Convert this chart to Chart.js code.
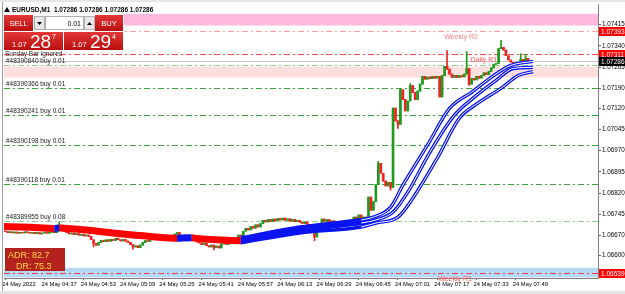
<!DOCTYPE html>
<html>
<head>
<meta charset="utf-8">
<script src="https://cdn.jsdelivr.net/npm/chart.js@4.4.1/dist/chart.umd.min.js"></script>
<style>
html, body { margin: 0; padding: 0; background: #fff; }
</style>
</head>
<body>
<canvas id="eurusdChart" width="625" height="294"></canvas>
<script>
// EURUSD M1, 24 May 2022, first bar 04:21
var startMinute = 4 * 60 + 21;
var firstOpen = 1.06686;
var closes = [
  1.06684, 1.06680, 1.06683, 1.06679, 1.06682, 1.06678, 1.06681, 1.06679, 1.06683, 1.06680,
  1.06678, 1.06681, 1.06677, 1.06680, 1.06676, 1.06679, 1.06682, 1.06678, 1.06681, 1.06684, 1.06680, 1.06686,
  1.06700, 1.06690, 1.06684,
  1.06680, 1.06676, 1.06679, 1.06673, 1.06677, 1.06671, 1.06674, 1.06669, 1.06672, 1.06667,
  1.06655, 1.06642, 1.06636, 1.06645,
  1.06652, 1.06648, 1.06655, 1.06650, 1.06657, 1.06653, 1.06660, 1.06655, 1.06651, 1.06656, 1.06650, 1.06646,
  1.06638, 1.06630, 1.06634, 1.06627, 1.06636,
  1.06645, 1.06652, 1.06649, 1.06656, 1.06660, 1.06657, 1.06663,
  1.06659, 1.06664, 1.06660, 1.06666, 1.06662, 1.06668,
  1.06675, 1.06680, 1.06671, 1.06666, 1.06672, 1.06663,
  1.06658, 1.06652, 1.06656, 1.06647, 1.06644,
  1.06638, 1.06643, 1.06634, 1.06630, 1.06636, 1.06628, 1.06633, 1.06626, 1.06640,
  1.06644, 1.06639, 1.06646, 1.06642, 1.06650,
  1.06662, 1.06672, 1.06668, 1.06685, 1.06695,
  1.06690, 1.06702, 1.06696, 1.06708, 1.06700, 1.06712,
  1.06724, 1.06718, 1.06726, 1.06720,
  1.06728, 1.06722, 1.06730, 1.06725, 1.06732, 1.06724, 1.06729, 1.06721, 1.06727, 1.06719, 1.06724, 1.06717,
  1.06713, 1.06718, 1.06710, 1.06706,
  1.06690, 1.06665, 1.06700, 1.06712,
  1.06728, 1.06720, 1.06726, 1.06716, 1.06722, 1.06714,
  1.06718, 1.06710, 1.06717, 1.06712, 1.06720, 1.06715, 1.06722,
  1.06735, 1.06728, 1.06742,
  1.06725, 1.06735, 1.06722,
  1.06806, 1.06760, 1.06790, 1.06850, 1.06925, 1.06890, 1.06862, 1.06845, 1.06858, 1.06840,
  1.07120, 1.07075, 1.07062, 1.07185, 1.07150, 1.07110, 1.07145, 1.07200, 1.07175, 1.07150, 1.07180, 1.07205,
  1.07232, 1.07222, 1.07230, 1.07224, 1.07232, 1.07226, 1.07232, 1.07160, 1.07235, 1.07268, 1.07258, 1.07240,
  1.07228, 1.07236, 1.07228, 1.07235, 1.07230, 1.07240, 1.07260, 1.07205, 1.07225, 1.07220, 1.07232, 1.07226,
  1.07235, 1.07245, 1.07238, 1.07250, 1.07262, 1.07275, 1.07278, 1.07330, 1.07335, 1.07325, 1.07305, 1.07290,
  1.07282, 1.07274, 1.07282, 1.07276, 1.07292, 1.07280, 1.07296, 1.07282, 1.07286
];
// wick extremes that stick out of the bodies: [bar index, price]
var wickHighs = [[22, 1.06718], [152, 1.06932], [161, 1.07190], [165, 1.07207], [180, 1.07323], [188, 1.07320], [202, 1.07359], [210, 1.07313], [212, 1.07310]];
var wickLows = [[36, 1.06630], [52, 1.06622], [85, 1.06619], [126, 1.06652], [157, 1.06830], [160, 1.07048], [189, 1.07200]];

// thick MA (red falling / blue rising): [bar index, price]
var maLine = [[-2, 1.06702], [10, 1.06699], [20, 1.06695], [22, 1.06697], [24, 1.06696], [35, 1.06688], [47, 1.06676], [60, 1.06666], [70, 1.06660], [72, 1.06661], [76, 1.06662], [78, 1.06660], [88, 1.06654], [96, 1.06652], [100, 1.06660], [110, 1.06677], [120, 1.06690], [130, 1.06703], [140, 1.06714], [148, 1.06722]];
var upperBand = [[96, 1.06662], [120, 1.06700], [145, 1.06725], [150, 1.06735], [157, 1.06770], [162, 1.06848], [172, 1.06989], [181, 1.07119], [190, 1.07176], [199, 1.07235], [206, 1.07271], [215, 1.07285]];
var midBand = [[96, 1.06655], [120, 1.06690], [145, 1.06714], [151, 1.06725], [158, 1.06753], [164, 1.06823], [173, 1.06964], [183, 1.07095], [191, 1.07158], [200, 1.07218], [207, 1.07260], [215, 1.07264]];
var lowerBand = [[96, 1.06644], [120, 1.06679], [145, 1.06700], [151, 1.06714], [160, 1.06735], [165, 1.06788], [176, 1.06943], [185, 1.07084], [193, 1.07140], [202, 1.07190], [209, 1.07235], [215, 1.07249]];

var yTicks = [1.07415, 1.07340, 1.07265, 1.07190, 1.07120, 1.07045, 1.06970, 1.06895, 1.06820, 1.06745, 1.06670, 1.06600, 1.06525];
var timeTicks = [0, 16, 32, 48, 64, 80, 96, 112, 128, 144, 160, 176, 192, 208];

var orderLevels = [1.07274, 1.07190, 1.07095, 1.06989, 1.06851, 1.06722];
var orderLabels = ["#48390840 buy 0.01", "#48390366 buy 0.01", "#48390241 buy 0.01", "#48390198 buy 0.01", "#48390118 buy 0.01", "#48389955 buy 0.08"];
var pivotLevels = [1.07393, 1.07311, 1.06539];
var pivotLabels = ["Weekly R2", "Daily R1", "Weekly R1"];
var zoneWeeklyR2 = [1.07412, 1.07453];
var zoneDailyR1 = [1.07228, 1.07267];
var zoneWeeklyR1 = [1.06522, 1.06556];
var bid = 1.07286;
var sellQuote = ["1.07", "28", "7"];
var buyQuote = ["1.07", "29", "4"];
var lotSize = "0.01";
var adr = "82.7";
var dr = "75.3";

// ローソク足のデータ作成
var wicks = [], bodies = [], candleColors = [];
closes.forEach(function (c, i) {
  var o = i === 0 ? firstOpen : closes[i - 1];
  var hi = Math.max(o, c), lo = Math.min(o, c);
  wickHighs.forEach(function (w) { if (w[0] === i) hi = Math.max(hi, w[1]); });
  wickLows.forEach(function (w) { if (w[0] === i) lo = Math.min(lo, w[1]); });
  bodies.push({ x: i, y: [o, c] });
  wicks.push({ x: i, y: [lo, hi] });
  candleColors.push(c >= o ? "#1e9a1e" : "#f02222");
});
function pts(arr) { return arr.map(function (p) { return { x: p[0], y: p[1] }; }); }
// 白い芯は急上昇部分だけ
function corePts(arr) { return pts(arr).filter(function (p) { return p.x >= 145; }); }
function timeLabel(i) {
  if (i === 0) return "24 May 2022";
  var m = startMinute + i;
  var hh = Math.floor(m / 60), mm = m % 60;
  return "24 May " + (hh < 10 ? "0" : "") + hh + ":" + (mm < 10 ? "0" : "") + mm;
}

var FONT = "Liberation Sans";

function redBox(c, x, y, w, h) {
  var g = c.createLinearGradient(0, y, 0, y + h);
  g.addColorStop(0, "#e43838");
  g.addColorStop(1, "#b80e0e");
  c.fillStyle = g;
  c.fillRect(x, y, w, h);
}

var mtPlugin = {
  id: "mtPlugin",
  beforeDatasetsDraw: function (chart) {
    var c = chart.ctx, a = chart.chartArea, y = chart.scales.y;
    c.save();
    c.beginPath(); c.rect(a.left, a.top, a.right - a.left, a.bottom - a.top); c.clip();
    // zones
    function zone(z, col) {
      var y1 = y.getPixelForValue(z[1]), y0 = y.getPixelForValue(z[0]);
      c.fillStyle = col; c.fillRect(a.left, y1, a.right - a.left, y0 - y1);
    }
    zone(zoneWeeklyR2, "#ffb8df");
    zone(zoneDailyR1, "#ffdede");
    zone(zoneWeeklyR1, "#b4d8f6");
    // bid line
    var by = Math.round(y.getPixelForValue(bid)) + 0.5;
    c.strokeStyle = "#c8c8c8"; c.lineWidth = 1; c.setLineDash([]);
    c.beginPath(); c.moveTo(a.left, by); c.lineTo(a.right, by); c.stroke();
    // dash-dot levels
    c.setLineDash([6, 3, 2, 3]);
    function level(v, col) {
      var py = Math.round(y.getPixelForValue(v)) + 0.5;
      c.strokeStyle = col;
      c.beginPath(); c.moveTo(a.left, py); c.lineTo(a.right, py); c.stroke();
    }
    orderLevels.forEach(function (v, i) { level(v, i === 0 || i === 5 ? "#8fcf8f" : "#3aa33a"); });
    level(pivotLevels[0], "#ffa0a0");
    level(pivotLevels[1], "#ff4848");
    level(pivotLevels[2], "#ff4040");
    c.restore();
  },
  afterDatasetsDraw: function (chart) {
    var c = chart.ctx, a = chart.chartArea, y = chart.scales.y;
    c.save();
    c.setLineDash([]);
    c.textBaseline = "alphabetic";
    // order labels
    c.font = "6.5px '" + FONT + "'";
    c.fillStyle = "#222";
    c.textAlign = "left";
    orderLevels.forEach(function (v, i) {
      c.fillText(orderLabels[i], 6, y.getPixelForValue(v) - 2);
    });
    c.fillText("Sunday Bar ignored", 5, 56);
    // pivot labels
    c.font = "7px '" + FONT + "'";
    c.textAlign = "center";
    c.fillStyle = "#ff8080";
    c.fillText(pivotLabels[0], 461, y.getPixelForValue(pivotLevels[0]) + 8);
    c.fillStyle = "#ff5050";
    c.fillText(pivotLabels[1], 484, y.getPixelForValue(pivotLevels[1]) + 8);
    c.fillText(pivotLabels[2], 455, y.getPixelForValue(pivotLevels[2]) + 8);
    c.restore();
  },
  afterDraw: function (chart) {
    var c = chart.ctx, a = chart.chartArea, y = chart.scales.y;
    c.save();
    // window frame bits
    c.fillStyle = "#e6e6e6";
    c.fillRect(0, 0, 625, 2);
    c.fillRect(0, 291, 625, 3);
    c.fillStyle = "#a0a0a0";
    c.fillRect(2, 2, 1, 289);
    // header
    c.fillStyle = "#000";
    c.beginPath(); c.moveTo(4, 12); c.lineTo(7, 7); c.lineTo(10, 12); c.closePath(); c.fill();
    c.font = "bold 6.5px '" + FONT + "'";
    c.textAlign = "left";
    c.fillText("EURUSD,M1  1.07286 1.07286 1.07286 1.07286", 12, 12);
    // price tags on the right axis
    var tags = [[pivotLevels[0], "#ff0000"], [pivotLevels[1], "#ff0000"], [bid, "#000000"], [pivotLevels[2], "#ff0000"]];
    c.font = "6.5px '" + FONT + "'";
    tags.forEach(function (t) {
      var py = y.getPixelForValue(t[0]);
      c.fillStyle = t[1];
      c.fillRect(599, Math.round(py) - 4, 26, 9);
      c.fillStyle = "#fff";
      c.fillText(t[0].toFixed(5), 601, Math.round(py) + 3);
    });
    // one-click trading panel
    c.fillStyle = "#fff";
    c.fillRect(3, 14, 121, 37);
    redBox(c, 4, 15, 29, 16);
    redBox(c, 95, 15, 28, 16);
    c.fillStyle = "#e9e9e9";
    c.fillRect(34, 16, 11, 14);
    c.fillRect(84, 16, 11, 14);
    c.strokeStyle = "#b0b0b0"; c.lineWidth = 1;
    c.strokeRect(34.5, 16.5, 10, 13);
    c.strokeRect(84.5, 16.5, 10, 13);
    c.strokeRect(45.5, 16.5, 38, 13);
    c.fillStyle = "#000";
    c.beginPath(); c.moveTo(37, 22); c.lineTo(42, 22); c.lineTo(39.5, 25); c.closePath(); c.fill();
    c.beginPath(); c.moveTo(87, 25); c.lineTo(92, 25); c.lineTo(89.5, 22); c.closePath(); c.fill();
    c.font = "7px '" + FONT + "'";
    c.textAlign = "right";
    c.fillText(lotSize, 81, 26);
    c.fillStyle = "#fff";
    c.textAlign = "center";
    c.font = "7.5px '" + FONT + "'";
    c.fillText("SELL", 18.5, 26);
    c.fillText("BUY", 109, 26);
    redBox(c, 4, 32, 59, 18);
    redBox(c, 64, 32, 59, 18);
    function quote(q, x0) {
      c.fillStyle = "#fff";
      c.textAlign = "left";
      c.font = "7.5px '" + FONT + "'";
      c.fillText(q[0], x0 + 8, 47);
      c.font = "19px '" + FONT + "'";
      c.fillText(q[1], x0 + 26, 48);
      c.font = "7px '" + FONT + "'";
      c.fillText(q[2], x0 + 48, 39);
    }
    quote(sellQuote, 4);
    quote(buyQuote, 64);
    // ADR box
    c.fillStyle = "#b3221c";
    c.fillRect(5, 248, 60, 23);
    c.fillStyle = "#ffd84a";
    c.font = "9px '" + FONT + "'";
    c.textAlign = "left";
    c.fillText("ADR: " + adr, 8, 258);
    c.fillText("DR: " + dr, 16, 269);
    c.restore();
  }
};

var ctx = document.getElementById("eurusdChart");
var chart = new Chart(ctx, {
  type: "bar",
  data: {
    datasets: [
      // バンドの白い芯
      { type: "line", data: corePts(upperBand), borderColor: "#ffffff", borderWidth: 1, pointRadius: 0, cubicInterpolationMode: "monotone", order: 1 },
      { type: "line", data: corePts(midBand), borderColor: "#ffffff", borderWidth: 1, pointRadius: 0, cubicInterpolationMode: "monotone", order: 1 },
      { type: "line", data: corePts(lowerBand), borderColor: "#ffffff", borderWidth: 1, pointRadius: 0, cubicInterpolationMode: "monotone", order: 1 },
      { type: "line", data: pts(upperBand), borderColor: "#0a14f0", borderWidth: 3.4, pointRadius: 0, cubicInterpolationMode: "monotone", order: 2 },
      { type: "line", data: pts(midBand), borderColor: "#0a14f0", borderWidth: 3.4, pointRadius: 0, cubicInterpolationMode: "monotone", order: 2 },
      { type: "line", data: pts(lowerBand), borderColor: "#0a14f0", borderWidth: 3.4, pointRadius: 0, cubicInterpolationMode: "monotone", order: 2 },
      // 太い移動平均
      {
        type: "line", data: pts(maLine), borderWidth: 7, pointRadius: 0, borderCapStyle: "butt",
        cubicInterpolationMode: "monotone", order: 5, borderColor: "#ff0000",
        segment: { borderColor: function (s) { return s.p1.parsed.y > s.p0.parsed.y ? "#0a14f0" : "#ff0000"; } }
      },
      // ローソク足
      { data: bodies, backgroundColor: candleColors, barThickness: 2, grouped: false, order: 10 },
      { data: wicks, backgroundColor: candleColors, barThickness: 1, grouped: false, order: 11 }
    ]
  },
  options: {
    responsive: false,
    animation: false,
    layout: { padding: { left: 4, top: 4, right: 0, bottom: 0 } },
    plugins: { legend: { display: false }, tooltip: { enabled: false } },
    scales: {
      x: {
        type: "linear", min: -0.5, max: 241.5, offset: false,
        grid: { display: true, drawOnChartArea: false, offset: false, tickLength: 2, color: "#606060" },
        border: { display: true, color: "#808080" },
        afterBuildTicks: function (s) { s.ticks = timeTicks.map(function (v) { return { value: v }; }); },
        afterFit: function (s) { s.height = 16; },
        ticks: {
          autoSkip: false, maxRotation: 0, align: "start", labelOffset: -3, padding: 1,
          color: "#000", font: { family: FONT, size: 5.8 },
          callback: function (v) { return timeLabel(v); }
        }
      },
      y: {
        position: "right", min: 1.06520, max: 1.07485,
        grid: { display: true, drawOnChartArea: false, tickLength: 3, color: "#606060" },
        border: { display: true, color: "#808080" },
        afterBuildTicks: function (s) { s.ticks = yTicks.map(function (v) { return { value: v }; }); },
        afterFit: function (s) { s.width = 27; },
        ticks: {
          padding: 1, color: "#000", font: { family: FONT, size: 6.3 },
          callback: function (v) { return v.toFixed(5); }
        }
      }
    }
  },
  plugins: [mtPlugin]
});
</script>
</body>
</html>
